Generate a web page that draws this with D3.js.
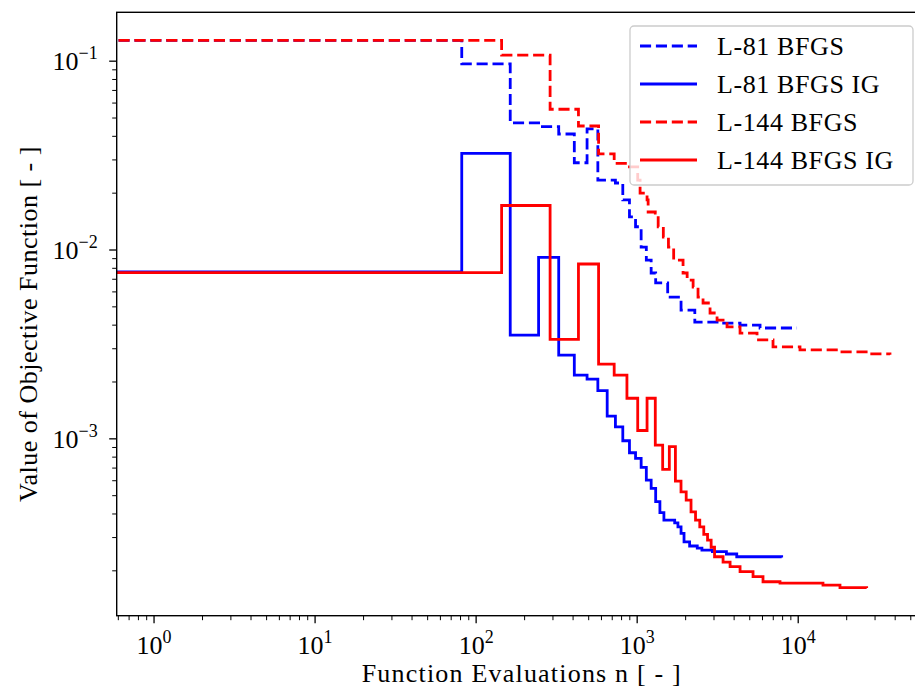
<!DOCTYPE html>
<html><head><meta charset="utf-8">
<script src="https://cdn.jsdelivr.net/npm/d3@7"></script>
<style>
body{margin:0;background:#fff;}
text{font-family:"Liberation Serif","DejaVu Serif",serif;fill:#000;}
</style>
</head><body>
<svg id="chart" width="915" height="689"></svg>
<script>
// ---- data (function evaluations n, objective value) ----
const l81BfgsN = [0, 82, 164, 246, 328, 410, 492, 574, 738, 820, 902, 984, 1066, 1148, 1230, 1312, 1558, 1886, 2296, 3297, 4385, 5836, 9900];
const l81BfgsV = [0.128, 0.0961, 0.0468, 0.0447, 0.0409, 0.0288, 0.0435, 0.0233, 0.0225, 0.0183, 0.0149, 0.0132, 0.0103, 0.00879, 0.00751, 0.00665, 0.0056, 0.00478, 0.00413, 0.00408, 0.00398, 0.00384, 0.00384];

const l81IgN = [0, 82, 164, 246, 328, 410, 492, 574, 656, 738, 820, 902, 984, 1066, 1148, 1230, 1312, 1394, 1476, 1722, 1804, 1886, 1968, 2132, 2378, 2542, 2952, 3608, 4182, 7950];
const l81IgV = [0.0076, 0.0323, 0.00352, 0.00909, 0.00276, 0.00216, 0.00206, 0.00179, 0.00131, 0.00115, 0.000971, 0.000839, 0.000783, 0.000702, 0.000601, 0.000543, 0.000462, 0.000404, 0.000369, 0.000357, 0.00034, 0.000314, 0.000283, 0.000269, 0.000262, 0.000256, 0.000251, 0.000244, 0.000236, 0.000234];

const l144BfgsN = [0, 145, 290, 435, 580, 725, 870, 1015, 1050, 1160, 1178, 1305, 1360, 1464, 1575, 1697, 1941, 2058, 2241, 2404, 2583, 2855, 3156, 3640, 4385, 5590, 7025, 10330, 18300, 28100, 37400];
const l144BfgsV = [0.128, 0.107, 0.0553, 0.0451, 0.0321, 0.0286, 0.0274, 0.0233, 0.0199, 0.0183, 0.0158, 0.0156, 0.0132, 0.01164, 0.0103, 0.00879, 0.00751, 0.00689, 0.00633, 0.0056, 0.00521, 0.00461, 0.00423, 0.00389, 0.00361, 0.00332, 0.00305, 0.00294, 0.00287, 0.0028, 0.00277];

const l144IgN = [0, 145, 290, 435, 580, 725, 870, 1015, 1160, 1305, 1450, 1595, 1740, 1885, 2030, 2175, 2320, 2465, 2610, 2755, 2900, 3045, 3439, 3802, 4385, 5279, 6088, 7762, 14350, 18300, 26800];
const l144IgV = [0.00755, 0.0171, 0.00334, 0.00838, 0.00247, 0.00216, 0.00163, 0.0011, 0.00163, 0.000921, 0.000685, 0.000903, 0.000594, 0.000521, 0.000471, 0.000408, 0.000369, 0.00034, 0.00031, 0.000289, 0.000265, 0.000236, 0.000221, 0.000209, 0.000197, 0.000185, 0.000174, 0.000171, 0.000167, 0.000162, 0.000161];

const seriesNames = ["L-81 BFGS", "L-81 BFGS IG", "L-144 BFGS", "L-144 BFGS IG"];
const xTickExponents = [0, 1, 2, 3, 4];
const yTickExponents = [-1, -2, -3];
const xLabel = "Function Evaluations n [ - ]";
const yLabel = "Value of Objective Function [ - ]";

// ---- layout ----
const svg = d3.select("#chart");
const L = 116.7, R = 927, T = 12.3, B = 615.7;
const x = d3.scaleLog().domain([0.5905, 63500]).range([L, R]);
const y = d3.scaleLog().domain([1.15e-4, 0.1804]).range([B, T]);

const series = [
  {name: seriesNames[0], n: l81BfgsN, v: l81BfgsV, color: "#0000ff", dash: "11.1,4.8"},
  {name: seriesNames[1], n: l81IgN, v: l81IgV, color: "#0000ff", dash: null},
  {name: seriesNames[2], n: l144BfgsN, v: l144BfgsV, color: "#ff0000", dash: "11.1,4.8"},
  {name: seriesNames[3], n: l144IgN, v: l144IgV, color: "#ff0000", dash: null}
];

svg.append("defs").append("clipPath").attr("id", "clip")
  .append("rect").attr("x", L).attr("y", T).attr("width", R - L).attr("height", B - T);

const line = d3.line()
  .x(d => d.n > 0 ? x(d.n) : L - 30)
  .y(d => y(d.v))
  .curve(d3.curveStepAfter);

const plot = svg.append("g").attr("clip-path", "url(#clip)");
series.forEach(s => {
  const pts = s.n.map((n, i) => ({n: n, v: s.v[i]}));
  plot.append("path").datum(pts)
    .attr("d", line)
    .attr("fill", "none")
    .attr("stroke", s.color)
    .attr("stroke-width", 2.8)
    .attr("stroke-dasharray", s.dash)
    .attr("stroke-linejoin", "miter")
    .attr("stroke-linecap", "butt");
});

// ---- axes ----
const xMajor = xTickExponents.map(e => Math.pow(10, e));
const yMajor = yTickExponents.map(e => Math.pow(10, e));
function minorTicks(scale) {
  const [a, b] = scale.domain();
  const out = [];
  for (let e = Math.floor(Math.log10(Math.min(a, b))); e <= Math.ceil(Math.log10(Math.max(a, b))); e++) {
    for (let m = 2; m <= 9; m++) {
      const v = m * Math.pow(10, e);
      if (v >= Math.min(a, b) && v <= Math.max(a, b)) out.push(v);
    }
  }
  return out;
}
const xMinor = minorTicks(x);
const yMinor = minorTicks(y);

function styleAxis(g, w) {
  g.select(".domain").remove();
  g.selectAll(".tick line").attr("stroke", "#000").attr("stroke-width", w);
}

svg.append("g").attr("transform", `translate(0,${B})`)
  .call(d3.axisBottom(x).tickValues(xMinor).tickSize(4.5).tickFormat(""))
  .call(g => styleAxis(g, 1));
const gx = svg.append("g").attr("transform", `translate(0,${B})`)
  .call(d3.axisBottom(x).tickValues(xMajor).tickSize(7.5).tickFormat(""))
  .call(g => styleAxis(g, 1.3));
gx.selectAll(".tick").each(function(d) {
  const t = d3.select(this).append("text")
    .attr("y", 38).attr("text-anchor", "middle")
    .style("font-size", "26px");
  t.append("tspan").text("10");
  t.append("tspan").attr("dy", -11).style("font-size", "18px")
    .text(String(Math.round(Math.log10(d))));
});

svg.append("g").attr("transform", `translate(${L},0)`)
  .call(d3.axisLeft(y).tickValues(yMinor).tickSize(4.5).tickFormat(""))
  .call(g => styleAxis(g, 1));
const gy = svg.append("g").attr("transform", `translate(${L},0)`)
  .call(d3.axisLeft(y).tickValues(yMajor).tickSize(7.5).tickFormat(""))
  .call(g => styleAxis(g, 1.3));
gy.selectAll(".tick").each(function(d) {
  const t = d3.select(this).append("text")
    .attr("x", -19).attr("y", 9).attr("text-anchor", "end")
    .style("font-size", "26px");
  t.append("tspan").text("10");
  t.append("tspan").attr("dy", -11).style("font-size", "18px")
    .text("\u2212" + String(Math.abs(Math.round(Math.log10(d)))));
});

// spines
svg.append("rect").attr("x", L).attr("y", T).attr("width", R - L).attr("height", B - T)
  .attr("fill", "none").attr("stroke", "#000").attr("stroke-width", 1.4);

// axis labels
svg.append("text").attr("x", (L + R) / 2).attr("y", 682).attr("text-anchor", "middle")
  .style("font-size", "26px").style("letter-spacing", "1.2px").text(xLabel);
svg.append("text").attr("transform", `translate(37,${(T + B) / 2 + 10}) rotate(-90)`)
  .attr("text-anchor", "middle").style("font-size", "26px").style("letter-spacing", "0.5px").text(yLabel);

// legend
const lg = svg.append("g");
lg.append("rect").attr("x", 630).attr("y", 26).attr("width", 283).attr("height", 159)
  .attr("rx", 4).attr("fill", "#fff").attr("fill-opacity", 0.8)
  .attr("stroke", "#cccccc").attr("stroke-width", 1.3);
series.forEach((s, i) => {
  const cy = 46 + i * 38;
  lg.append("line").attr("x1", 640).attr("x2", 697).attr("y1", cy).attr("y2", cy)
    .attr("stroke", s.color).attr("stroke-width", 2.8)
    .attr("stroke-dasharray", s.dash);
  lg.append("text").attr("x", 717).attr("y", cy + 9).style("font-size", "26px")
    .style("letter-spacing", "0.6px").text(s.name);
});
</script>
</body></html>
